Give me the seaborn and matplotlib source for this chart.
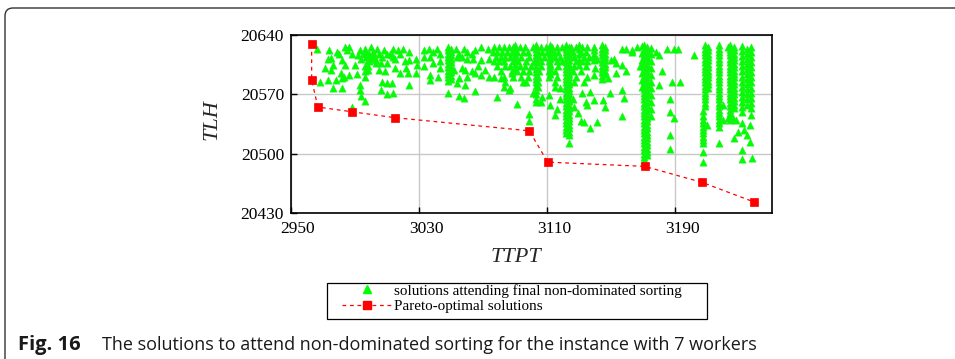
import numpy as np
import pandas as pd
import matplotlib
matplotlib.use("Agg")
import matplotlib.pyplot as plt
import seaborn as sns
from matplotlib.patches import FancyBboxPatch, Rectangle
from matplotlib.transforms import ScaledTranslation
from matplotlib.lines import Line2D

# ---------------- data ----------------
x_ticks = [2950, 3030, 3110, 3190]
y_ticks = [20430, 20500, 20570, 20640]

# scattered solutions (TTPT, TLH)
scatter_ttpt = [
    2966, 2974, 2979, 2984, 2985, 2988, 2993, 2996, 2995, 2998, 3000, 3001, 3004, 3005, 3008, 3010,
    2973, 2975, 2982, 2984, 2990, 2994, 2998, 3000, 3003, 3006, 3010, 2971, 2975, 2976, 2981, 2983,
    2986, 2991, 2996, 2998, 3005, 3009, 2968, 2973, 2978, 2982, 2996, 3007, 3010, 2976, 2982, 2993,
    2993, 3006, 2994, 2996, 3010, 2988, 2997, 2999, 3001,
    2997, 2999, 3002, 2996, 2998, 3003, 2992, 2980, 2986, 3007,
    3014, 3017, 3020, 3024, 3013, 3015, 3021, 3024, 3028, 3033, 3036, 3039, 3041, 3043, 3053, 3055,
    3058, 3060, 3063, 3065, 3069, 3073, 3033, 3037, 3043, 3054, 3057, 3060, 3064, 3069, 3074, 3015,
    3022, 3029, 3033, 3039, 3043, 3052, 3057, 3059, 3063, 3067, 3071, 3018, 3023, 3028, 3037, 3042,
    3055, 3060, 3065, 3069, 3074, 3013, 3024, 3037, 3054, 3059, 3048, 3055, 3058, 3065, 3014, 3012,
    3018, 3014,
    3077, 3080, 3083, 3086, 3089, 3093, 3096, 3101, 3106, 3109, 3113, 3116, 3119, 3125, 3128, 3132, 3135,
    3076, 3079, 3082, 3085, 3088, 3091, 3095, 3098, 3104, 3107, 3110, 3114, 3117, 3126, 3131, 3134,
    3078, 3081, 3084, 3087, 3090, 3094, 3099, 3105, 3108, 3112, 3115, 3118, 3127, 3133, 3136,
    3077, 3080, 3083, 3089, 3092, 3097, 3102, 3106, 3111, 3116, 3119, 3128, 3132, 3135,
    3079, 3084, 3087, 3093, 3096, 3100, 3106, 3112, 3117, 3127, 3134,
    3081, 3088, 3091, 3095, 3099, 3105, 3111, 3115, 3126, 3131,
    3077, 3083, 3089, 3094, 3098, 3104, 3111, 3116, 3128, 3135,
    3084, 3095, 3097, 3104, 3115, 3127, 3133,
    3079, 3086, 3091, 3099, 3099, 3101, 3106, 3107, 3111, 3112, 3115, 3116, 3118, 3126, 3127, 3129,
    3131, 3133, 3135, 3083, 3087, 3104, 3115, 3118, 3132, 3134, 3081, 3088,
    3157, 3159, 3163, 3166, 3163, 3141, 3150, 3152, 3153, 3157, 3159, 3153, 3139, 3140, 3148, 3168,
    3178, 3180, 3185, 3189, 3192, 3182, 3188, 3193, 3180, 3157, 3158, 3149, 3145, 3146, 3139, 3137,
    3157, 3141, 3187, 3187, 3189, 3187, 3187, 3137,
    3202, 3220, 3223, 3228, 3229, 3232, 3233, 3232, 3232, 3237, 3237, 3238, 3227, 3226, 3224, 3235,
    3220, 3223, 3210,
]
scatter_tlh = [
    20624, 20622, 20620, 20626, 20622, 20618, 20622, 20624, 20618, 20616, 20626, 20620, 20624, 20618, 20622, 20618,
    20612, 20613, 20610, 20605, 20605, 20612, 20610, 20612, 20607, 20607, 20607, 20601, 20599, 20605, 20595, 20591,
    20593, 20594, 20597, 20599, 20599, 20597, 20585, 20587, 20587, 20589, 20590, 20585, 20583, 20577, 20578, 20581,
    20575, 20575, 20568, 20562, 20570, 20555, 20614, 20609, 20614,
    20620, 20617, 20616, 20604, 20603, 20611, 20616, 20617, 20626, 20614,
    20624, 20622, 20624, 20620, 20616, 20612, 20609, 20610, 20612, 20622, 20624, 20620, 20624, 20618, 20624, 20618,
    20624, 20620, 20618, 20622, 20626, 20624, 20614, 20614, 20609, 20614, 20614, 20612, 20612, 20610, 20612, 20601,
    20601, 20605, 20603, 20607, 20601, 20599, 20601, 20599, 20597, 20603, 20599, 20595, 20595, 20595, 20593, 20591,
    20589, 20591, 20595, 20593, 20591, 20583, 20581, 20587, 20583, 20581, 20571, 20568, 20566, 20574, 20571, 20618,
    20618, 20614,
    20626, 20626, 20626, 20626, 20626, 20626, 20626, 20626, 20626, 20626, 20626, 20626, 20626, 20626, 20626, 20626, 20626,
    20620, 20620, 20620, 20620, 20620, 20620, 20620, 20620, 20620, 20620, 20620, 20620, 20620, 20620, 20620, 20620,
    20614, 20614, 20614, 20614, 20614, 20614, 20614, 20614, 20614, 20614, 20614, 20614, 20614, 20614, 20614,
    20609, 20609, 20609, 20609, 20609, 20609, 20609, 20609, 20609, 20609, 20609, 20609, 20609, 20609,
    20603, 20603, 20603, 20603, 20603, 20603, 20603, 20603, 20603, 20603, 20603,
    20597, 20597, 20597, 20597, 20597, 20597, 20597, 20597, 20597, 20597,
    20591, 20591, 20591, 20591, 20591, 20591, 20591, 20591, 20591, 20591,
    20585, 20585, 20585, 20585, 20585, 20585, 20585,
    20567, 20575, 20559, 20547, 20538, 20571, 20561, 20567, 20569, 20557, 20546, 20553, 20565, 20565, 20555, 20548,
    20538, 20537, 20557, 20579, 20577, 20579, 20579, 20577, 20571, 20561, 20589, 20595,
    20624, 20624, 20622, 20626, 20620, 20612, 20610, 20612, 20607, 20605, 20597, 20595, 20593, 20601, 20589, 20603,
    20620, 20616, 20624, 20624, 20624, 20597, 20585, 20585, 20581, 20575, 20566, 20571, 20563, 20555, 20563, 20573,
    20544, 20537, 20565, 20549, 20542, 20522, 20505, 20530,
    20616, 20557, 20626, 20540, 20526, 20536, 20528, 20504, 20494, 20534, 20514, 20495, 20518, 20542, 20540, 20522,
    20540, 20542, 20534,
]

# dense vertical stacks of solutions: TTPT of each stack and its TLH values
stack_ttpt = [3048, 3050, 3103, 3121.5, 3123.5, 3170.5, 3172.5, 3169, 3175,
              3144, 3146, 3139, 3208.5, 3210.5, 3207.5, 3217.5, 3224.5, 3227,
              3232, 3235, 3237.5, 3090, 3112, 3130]
stack_tlh = [
    [20626, 20622, 20618, 20614, 20610, 20606, 20602, 20598, 20594, 20590, 20586],
    [20624, 20620, 20616, 20612, 20608, 20604, 20600, 20596, 20592, 20588],
    [20628, 20624, 20620, 20616, 20612, 20608, 20604, 20600, 20596, 20592, 20588, 20584, 20580, 20575, 20570, 20565, 20561],
    [20628, 20624, 20620, 20616, 20612, 20608, 20604, 20600, 20596, 20592, 20588, 20584, 20580, 20576, 20572, 20568,
     20564, 20560, 20556, 20552, 20548, 20544, 20540, 20536, 20532, 20528, 20524],
    [20626, 20622, 20618, 20614, 20610, 20606, 20602, 20598, 20594, 20590, 20586, 20582, 20578, 20574, 20570, 20566,
     20562, 20558, 20554, 20550, 20546, 20542, 20538, 20534, 20530, 20526, 20522, 20512],
    [20628, 20624, 20620, 20616, 20612, 20608, 20604, 20600, 20596, 20592, 20588, 20584, 20580, 20576, 20572, 20568,
     20564, 20560, 20556, 20552, 20548, 20544, 20540, 20536, 20532, 20528, 20524, 20520, 20516, 20512, 20508, 20504,
     20500, 20496, 20492],
    [20626, 20622, 20618, 20614, 20610, 20606, 20602, 20598, 20594, 20590, 20586, 20582, 20578, 20574, 20570, 20566,
     20562, 20558, 20554, 20550, 20546, 20542, 20538, 20534, 20530, 20526, 20522, 20518, 20514, 20510, 20506, 20502, 20498],
    [20627, 20619, 20611, 20603, 20595, 20587, 20579],
    [20625, 20617, 20609, 20601, 20593, 20585, 20577, 20569, 20561, 20553, 20545],
    [20628, 20624, 20620, 20616, 20612, 20608, 20604, 20600, 20596, 20592, 20588],
    [20626, 20622, 20618, 20614, 20610, 20606, 20602, 20598, 20594],
    [20626, 20622, 20618, 20614, 20610],
    [20628, 20624, 20620, 20616, 20612, 20608, 20604, 20600, 20596, 20592, 20588, 20584, 20580, 20576, 20572, 20568,
     20564, 20560, 20556],
    [20626, 20622, 20618, 20614, 20610, 20606, 20602, 20598, 20594, 20590, 20586, 20582, 20578],
    [20550, 20545, 20540, 20536, 20532, 20528, 20524, 20520, 20516, 20512, 20502, 20490],
    [20628, 20624, 20620, 20616, 20612, 20608, 20604, 20600, 20596, 20592, 20588, 20584, 20580, 20576, 20572, 20568,
     20564, 20560, 20556, 20552, 20548, 20544, 20540, 20536, 20532, 20512],
    [20628, 20624, 20620, 20616, 20612, 20608, 20604, 20600, 20596, 20592, 20588, 20584, 20580, 20576, 20572, 20568,
     20564, 20560, 20556, 20552, 20548, 20544],
    [20626, 20622, 20618, 20614, 20610, 20606, 20602, 20598, 20594, 20590, 20586, 20582, 20578, 20574, 20570, 20566,
     20562, 20558, 20554],
    [20627, 20621, 20615, 20609, 20603, 20597, 20591, 20585, 20579, 20573, 20567, 20561, 20555, 20549],
    [20624, 20618, 20612, 20606, 20600, 20594, 20588, 20582, 20576, 20570, 20564, 20558],
    [20626, 20620, 20614, 20608, 20602, 20596, 20590, 20584, 20578, 20572, 20566, 20560, 20554, 20546],
    [20628, 20623, 20617, 20611, 20606, 20600],
    [20628, 20623, 20617, 20612, 20606, 20600, 20594],
    [20628, 20623, 20618, 20611, 20605],
]

# Pareto-optimal solutions
pareto_ttpt = [2962.9, 2962.9, 2966.8, 2987.8, 3014.7, 3098.8, 3110.4, 3171.0, 3207.0, 3239.3]
pareto_tlh = [20629, 20587, 20555, 20549.5, 20542.5, 20527, 20490, 20485, 20466, 20443]

label_green = "solutions attending final non-dominated sorting"
label_red = "Pareto-optimal solutions"
caption_bold = "Fig. 16"
caption_text = "The solutions to attend non-dominated sorting for the instance with 7 workers"

# ---------------- build tables ----------------
g_x = list(scatter_ttpt)
g_y = list(scatter_tlh)
for sx, ys in zip(stack_ttpt, stack_tlh):
    g_x += [sx] * len(ys)
    g_y += ys
green_df = pd.DataFrame({"TTPT": g_x, "TLH": g_y})
pareto_df = pd.DataFrame({"TTPT": pareto_ttpt, "TLH": pareto_tlh})

# ---------------- style ----------------
sns.set_theme(style="white")
plt.rcParams['font.family'] = ['Liberation Serif', 'DejaVu Serif']

W, H = 955, 359
fig = plt.figure(figsize=(W / 100, H / 100), dpi=100)
ax = fig.add_axes([291 / W, 1 - 213 / H, (772 - 291) / W, (213 - 35) / H])

green = '#00ff00'
sns.scatterplot(data=green_df, x="TTPT", y="TLH", marker='^', color=green, s=28,
                edgecolor='#2ee62e', linewidth=0.3, ax=ax, legend=False, zorder=3)
sns.lineplot(data=pareto_df, x="TTPT", y="TLH", sort=False, estimator=None,
             color='red', lw=0.9, linestyle=(0, (3, 3)), marker='s', markersize=5.5,
             markeredgecolor='red', markeredgewidth=0.5, ax=ax, legend=False, zorder=4)

ax.set_xlim(2950, 3250.5)
ax.set_ylim(20430, 20640)
ax.set_xticks(x_ticks)
ax.set_yticks(y_ticks)
ax.grid(True, color='#c8c8c8', lw=1.0)
ax.set_axisbelow(True)
for s in ax.spines.values():
    s.set_color('black')
    s.set_linewidth(1.2)
    s.set_visible(True)
ax.tick_params(direction='in', length=4, width=1, colors='black', labelsize=12.5,
               bottom=True, left=True, top=False, right=False)
ax.tick_params(axis='x', pad=6)
ax.tick_params(axis='y', pad=5)
ax.set_xlabel("")
ax.set_ylabel("")
off = ScaledTranslation(7 / 100, 0, fig.dpi_scale_trans)
for lab in ax.get_xticklabels():
    lab.set_transform(lab.get_transform() + off)

fig.text(516 / W, 1 - 258 / H, "TTPT", fontsize=16, style='italic', ha='center', va='center')
fig.text(212 / W, 1 - 120 / H, "TLH", fontsize=16, style='italic', ha='center', va='center',
         rotation=90)

# legend: box drawn separately, entries placed inside
handles = [
    Line2D([], [], marker='^', color=green, linestyle='None', markersize=5.5),
    Line2D([], [], color='red', lw=0.9, linestyle=(0, (3, 3)), marker='s', markersize=5.5),
]
leg = fig.legend(handles, [label_green, label_red], loc='upper left',
                 bbox_to_anchor=(342 / W, 1 - 284 / H), frameon=False,
                 fontsize=10.9, handlelength=3.3, handletextpad=0.15,
                 borderpad=0.0, labelspacing=0.1, borderaxespad=0)
for t in leg.get_texts():
    t.set_color('black')
box = Rectangle((327 / W, 1 - 319 / H), 380 / W, 36 / H, transform=fig.transFigure,
                fill=False, edgecolor='black', lw=0.9)
fig.add_artist(box)

# caption
fig.text(18 / W, 1 - 345 / H, caption_bold, fontsize=14.5, fontweight='bold',
         family=['Open Sans', 'DejaVu Sans'], ha='left', va='center', color='#1a1a1a')
fig.text(102 / W, 1 - 345 / H, caption_text, fontsize=13,
         family=['Open Sans', 'DejaVu Sans'], ha='left', va='center', color='#1a1a1a')

# frame
frame = FancyBboxPatch((0.05, -0.3), 10.0, 3.51 + 0.3, boxstyle="round,pad=0,rounding_size=0.08",
                       transform=fig.dpi_scale_trans, fill=False, edgecolor='#333333',
                       lw=1.0, clip_on=False)
fig.add_artist(frame)

fig.savefig("out.png", dpi=100)
